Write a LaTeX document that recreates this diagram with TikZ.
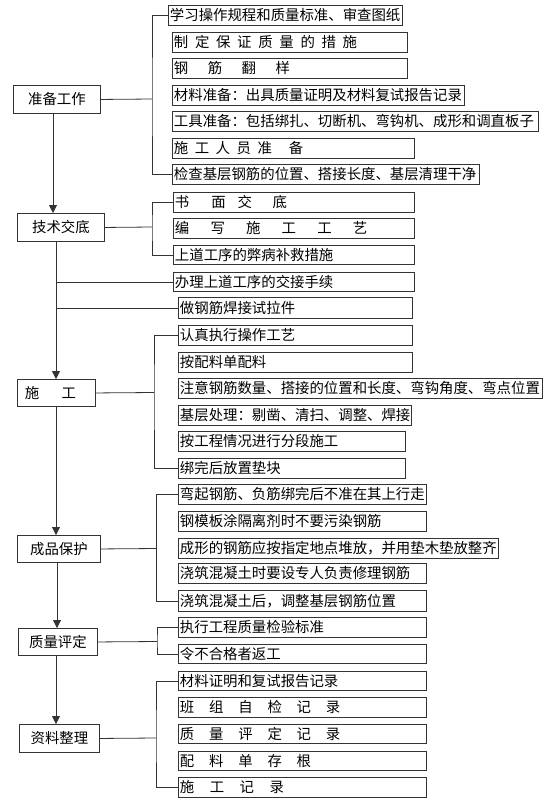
\documentclass[tikz,border=0pt]{standalone}
\usepackage{fontspec}
\setmainfont{Noto Sans CJK SC}
\usetikzlibrary{arrows.meta}
\makeatletter
\newcommand\spd[2]{\def\spd@g{}\@tfor\spd@c:=#2\do{\spd@g\spd@c\def\spd@g{\hspace*{#1}}}}
\makeatother
\newcommand\rbx[6]{%
  \pgfmathsetmacro\rbxw{#4-#2}\pgfmathsetmacro\rbxh{#5-#3}%
  \node[rbox, minimum width=\rbxw pt, minimum height=\rbxh pt] (#1) at (#2,#3)
    {\makebox[\dimexpr\rbxw pt-3pt\relax][l]{#6}};}
\newcommand\lbx[6]{%
  \pgfmathsetmacro\rbxw{#4-#2}\pgfmathsetmacro\rbxh{#5-#3}%
  \node[lbox, minimum width=\rbxw pt, minimum height=\rbxh pt] (#1) at (#2,#3) {#6};}
\begin{document}
\begin{tikzpicture}[x=1pt,y=-1pt,
  font=\fontsize{14.4pt}{16pt}\selectfont,
  rbox/.style={draw=black!80, line width=0.9pt, anchor=north west, inner xsep=1.5pt, inner ysep=0pt},
  lbox/.style={draw=black!80, line width=0.9pt, anchor=north west, inner sep=0pt, align=center},
  conn/.style={draw=black!80, line width=0.8pt},
  arr/.style={conn, -{Triangle[length=8pt,width=8pt]}}]
\fill[white] (0,0) rectangle (554,804);
\useasboundingbox (0,0) rectangle (554,804);

% group 1
\lbx{zb}{13}{85}{100}{113}{准备工作}
\rbx{a1}{168}{5}{402}{25}{学习操作规程和质量标准、审查图纸}
\rbx{a2}{172}{32}{407}{52}{\spd{6.7pt}{制定保证质量的措施}}
\rbx{a3}{172}{58}{407}{78}{\spd{19.5pt}{钢筋翻样}}
\rbx{a4}{172}{85}{464}{105}{材料准备：出具质量证明及材料复试报告记录}
\rbx{a5}{172}{111}{538}{131}{工具准备：包括绑扎、切断机、弯钩机、成形和调直板子}
\rbx{a6}{172}{138}{414}{158}{\spd{6.5pt}{施工人员准}\hspace*{17pt}备}
\rbx{a7}{172}{164}{479}{184}{检查基层钢筋的位置、搭接长度、基层清理干净}

% group 2
\lbx{jd}{17}{213}{104}{241}{技术交底}
\rbx{b1}{173}{192}{414}{212}{书\hspace*{22pt}面\hspace*{12pt}交\hspace*{20.5pt}底}
\rbx{b2}{173}{218}{414}{238}{\spd{21.2pt}{编写施工工艺}}
\rbx{b3}{173}{245}{414}{264}{上道工序的弊病补救措施}
\rbx{b4}{173}{272}{414}{291}{办理上道工序的交接手续}
\rbx{b5}{178}{297}{412}{318}{做钢筋焊接试拉件}

% group 3
\lbx{sg}{17}{379}{95}{406}{施\hspace*{22.5pt}工\hspace*{12pt}}
\rbx{c1}{178}{325}{412}{345}{认真执行操作工艺}
\rbx{c2}{178}{352}{412}{372}{按配料单配料}
\rbx{c3}{178}{378}{542}{398}{注意钢筋数量、搭接的位置和长度、弯钩角度、弯点位置}
\rbx{c4}{178}{405}{411}{425}{基层处理：剔凿、清扫、调整、焊接}
\rbx{c5}{178}{431}{405}{451}{按工程情况进行分段施工}
\rbx{c6}{178}{458}{405}{478}{绑完后放置垫块}

% group 4
\lbx{cp}{17}{535}{100}{562}{成品保护}
\rbx{d1}{178}{484}{426}{504}{弯起钢筋、负筋绑完后不准在其上行走}
\rbx{d2}{178}{511}{426}{531}{钢模板涂隔离剂时不要污染钢筋}
\rbx{d3}{178}{538}{498}{558}{成形的钢筋应按指定地点堆放，并用垫木垫放整齐}
\rbx{d4}{178}{563}{426}{583}{浇筑混凝土时要设专人负责修理钢筋}
\rbx{d5}{178}{590}{426}{611}{浇筑混凝土后，调整基层钢筋位置}

% group 5
\lbx{zp}{18}{628}{97}{655}{质量评定}
\rbx{e1}{178}{617}{426}{637}{执行工程质量检验标准}
\rbx{e2}{178}{644}{426}{663}{令不合格者返工}

% group 6
\lbx{zl}{19}{724}{99}{752}{资料整理}
\rbx{f1}{178}{671}{426}{690}{材料证明和复试报告记录}
\rbx{f2}{178}{697}{426}{717}{\spd{14.8pt}{班组自检记录}}
\rbx{f3}{178}{724}{426}{743}{\spd{14.8pt}{质量评定记录}}
\rbx{f4}{178}{751}{426}{770}{\spd{14.8pt}{配料单存根}}
\rbx{f5}{178}{777}{426}{797}{\spd{15.5pt}{施工记录}}

% brackets
\coordinate (sA) at (152,99);
\draw[conn] (zb.east) -- (sA);
\draw[conn] (a1.west) -| (sA) |- (a7.west);
\coordinate (sB) at (152,227);
\draw[conn] (jd.east) -- (sB);
\draw[conn] (b1.west) -| (sB) |- (b3.west);
\coordinate (sC) at (154,392.5);
\draw[conn] (sg.east) -- (sC);
\draw[conn] (c1.west) -| (sC) |- (c6.west);
\coordinate (sD) at (156.5,548.5);
\draw[conn] (cp.east) -- (sD);
\draw[conn] (d1.west) -| (sD) |- (d5.west);
\coordinate (sE) at (157,641.5);
\draw[conn] (zp.east) -- (sE);
\draw[conn] (e1.west) -| (sE) |- (e2.west);
\coordinate (sF) at (156,738);
\draw[conn] (zl.east) -- (sF);
\draw[conn] (f1.west) -| (sF) |- (f5.west);

% main flow
\coordinate (m1) at (53,0);
\coordinate (m2) at (56,0);
\coordinate (m3) at (56,0);
\coordinate (m4) at (57,0);
\coordinate (m5) at (56,0);
\draw[arr] (zb.south -| m1) -- (jd.north -| m1);
\draw[arr] (jd.south -| m2) -- (sg.north -| m2);
\draw[conn] (b4.west -| m2) -- (b4.west);
\draw[conn] (b5.west -| m2) -- (b5.west);
\draw[arr] (sg.south -| m3) -- (cp.north -| m3);
\draw[arr] (cp.south -| m4) -- (zp.north -| m4);
\draw[arr] (zp.south -| m5) -- (zl.north -| m5);
\end{tikzpicture}
\end{document}
